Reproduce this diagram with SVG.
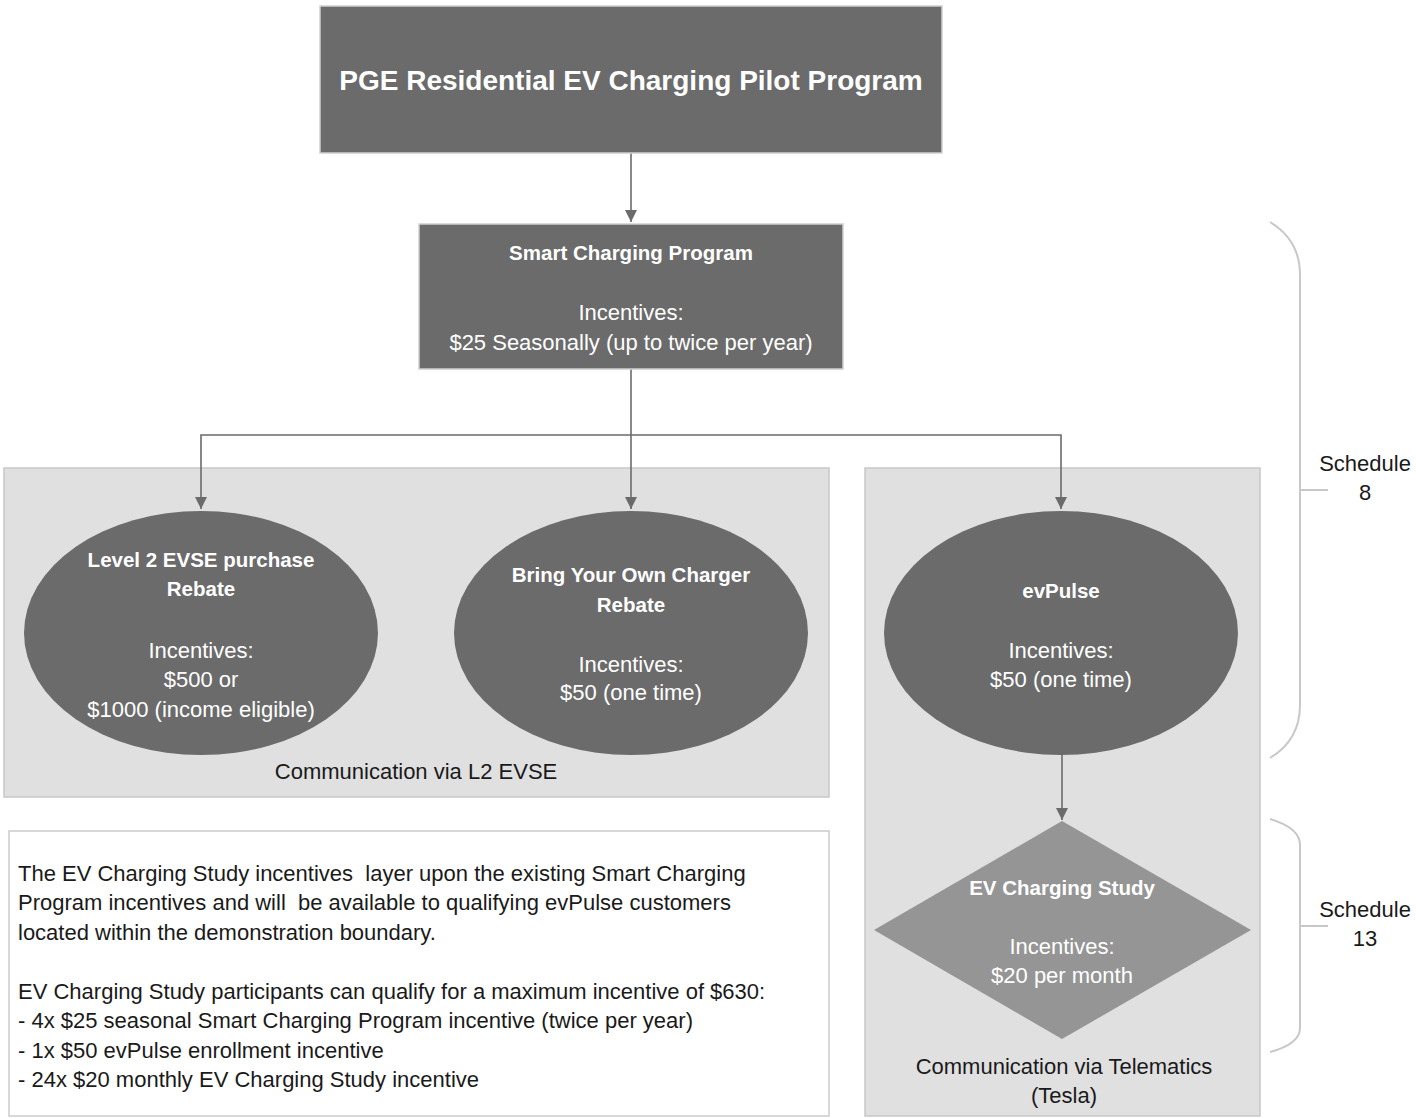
<svg xmlns="http://www.w3.org/2000/svg" width="1416" height="1118" viewBox="0 0 1416 1118">
  <style>
    .node { fill: #6b6b6b; stroke: #cfcfcf; stroke-width: 1.5; }
    .oval { fill: #6b6b6b; }
    .panel { fill: #e0e0e0; stroke: #c8c8c8; stroke-width: 1.5; }
    .note { fill: #ffffff; stroke: #cccccc; stroke-width: 1.5; }
    .diamond { fill: #959595; }
    .wire { fill: none; stroke: #6b6b6b; stroke-width: 1.6; }
    .brace { fill: none; stroke: #c8c8c8; stroke-width: 2; }
    text { font-family: "Liberation Sans", Arial, sans-serif; font-size: 22px; }
    .w { fill: #ffffff; text-anchor: middle; }
    .b { font-weight: bold; font-size: 20.5px; }
    .title { font-weight: bold; font-size: 28px; }
    .d { fill: #1a1a1a; }
    .c { text-anchor: middle; }
  </style>
  <defs>
    <marker id="arrow" viewBox="0 0 12 12" refX="12" refY="6" markerWidth="12" markerHeight="12" markerUnits="userSpaceOnUse" orient="auto">
      <path d="M0,0 L12,6 L0,12 Z" fill="#6b6b6b"/>
    </marker>
  </defs>

  <rect width="1416" height="1118" fill="#ffffff"/>

  <!-- background panels -->
  <g id="panel-l2">
    <rect class="panel" x="4" y="468" width="825" height="329"/>
    <text class="d c" x="416" y="779">Communication via L2 EVSE</text>
  </g>
  <g id="panel-telematics">
    <rect class="panel" x="865" y="468" width="395" height="648"/>
    <text class="d c" x="1064" y="1074">Communication via Telematics</text>
    <text class="d c" x="1064" y="1103">(Tesla)</text>
  </g>

  <!-- connectors -->
  <g id="connectors">
    <path class="wire" d="M631,153 V222" marker-end="url(#arrow)"/>
    <path class="wire" d="M631,369 V509" marker-end="url(#arrow)"/>
    <path class="wire" d="M631,435 H201 V509" marker-end="url(#arrow)"/>
    <path class="wire" d="M631,435 H1061 V509" marker-end="url(#arrow)"/>
    <path class="wire" d="M1062,755 V820" marker-end="url(#arrow)"/>
  </g>

  <g id="pilot-program">
    <rect class="node" x="320" y="6" width="622" height="147"/>
    <text class="w title" x="631" y="90">PGE Residential EV Charging Pilot Program</text>
  </g>

  <g id="smart-charging">
    <rect class="node" x="419" y="224" width="424" height="145"/>
    <text class="w b" x="631" y="260">Smart Charging Program</text>
    <text class="w" x="631" y="320">Incentives:</text>
    <text class="w" x="631" y="350">$25 Seasonally (up to twice per year)</text>
  </g>

  <g id="level2-rebate">
    <ellipse class="oval" cx="201" cy="633" rx="177" ry="122"/>
    <text class="w b" x="201" y="567">Level 2 EVSE purchase</text>
    <text class="w b" x="201" y="596">Rebate</text>
    <text class="w" x="201" y="658">Incentives:</text>
    <text class="w" x="201" y="687">$500 or</text>
    <text class="w" x="201" y="717">$1000 (income eligible)</text>
  </g>

  <g id="byoc-rebate">
    <ellipse class="oval" cx="631" cy="633" rx="177" ry="122"/>
    <text class="w b" x="631" y="582">Bring Your Own Charger</text>
    <text class="w b" x="631" y="612">Rebate</text>
    <text class="w" x="631" y="672">Incentives:</text>
    <text class="w" x="631" y="700">$50 (one time)</text>
  </g>

  <g id="evpulse">
    <ellipse class="oval" cx="1061" cy="633" rx="177" ry="122"/>
    <text class="w b" x="1061" y="598">evPulse</text>
    <text class="w" x="1061" y="658">Incentives:</text>
    <text class="w" x="1061" y="687">$50 (one time)</text>
  </g>

  <g id="ev-charging-study">
    <polygon class="diamond" points="1062,821 1251,930 1062,1039 874,930"/>
    <text class="w b" x="1062" y="895">EV Charging Study</text>
    <text class="w" x="1062" y="954">Incentives:</text>
    <text class="w" x="1062" y="983">$20 per month</text>
  </g>

  <!-- schedule brackets -->
  <g id="schedule-8">
    <path class="brace" d="M1270,222 Q1300,240 1300,275 V705 Q1300,740 1270,758 M1300,490 H1328"/>
    <text class="d c" x="1365" y="471">Schedule</text>
    <text class="d c" x="1365" y="500">8</text>
  </g>
  <g id="schedule-13">
    <path class="brace" d="M1270,819 Q1300,828 1300,845 V1028 Q1300,1044 1270,1052 M1300,926 H1328"/>
    <text class="d c" x="1365" y="917">Schedule</text>
    <text class="d c" x="1365" y="946">13</text>
  </g>

  <g id="study-note">
    <rect class="note" x="9" y="831" width="820" height="285"/>
    <text class="d" x="18" y="881">The EV Charging Study incentives&#160; layer upon the existing Smart Charging</text>
    <text class="d" x="18" y="910">Program incentives and will&#160; be available to qualifying evPulse customers</text>
    <text class="d" x="18" y="940">located within the demonstration boundary.</text>
    <text class="d" x="18" y="999">EV Charging Study participants can qualify for a maximum incentive of $630:</text>
    <text class="d" x="18" y="1028">- 4x $25 seasonal Smart Charging Program incentive (twice per year)</text>
    <text class="d" x="18" y="1058">- 1x $50 evPulse enrollment incentive</text>
    <text class="d" x="18" y="1087">- 24x $20 monthly EV Charging Study incentive</text>
  </g>
</svg>
